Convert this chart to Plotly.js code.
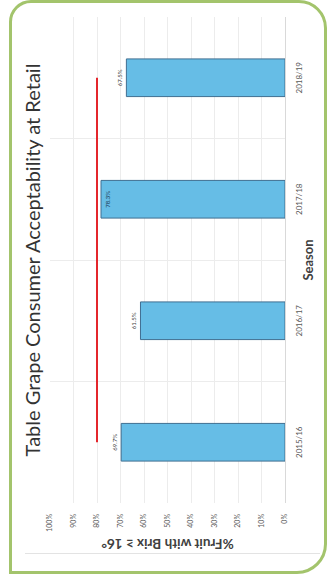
<!DOCTYPE html>
<html>
<head>
<meta charset="utf-8">
<script src="https://cdn.plot.ly/plotly-3.0.1.min.js"></script>
<style>
  html, body { margin: 0; padding: 0; background: #ffffff; width: 328px; height: 578px; overflow: hidden; }
  #frame { position: absolute; left: 9px; top: 0px; width: 312px; height: 568px;
           border: 3px solid #a3c46c; border-radius: 22px 28px 30px 0; background: #ffffff; }
  #rule { position: absolute; left: 25px; top: 553px; width: 295px; height: 1px; background: #e3e3e3; }
  #chart { position: absolute; left: 0; top: 0; width: 578px; height: 328px;
           transform-origin: 0 0; transform: translateY(578px) rotate(-90deg); }
</style>
</head>
<body>
<div id="frame"></div>
<div id="rule"></div>
<div id="chart"></div>
<script>
// Data
const seasons = ['2015/16', '2016/17', '2017/18', '2018/19'];
const pctBrix16 = [69.7, 61.5, 78.3, 67.5];
const target = [80, 80, 80, 80];
const labelPositions = ['outside', 'outside', 'inside', 'outside'];

const FONT = 'Lato, "Open Sans", sans-serif';

const bars = {
  type: 'bar',
  x: seasons,
  y: pctBrix16,
  text: pctBrix16.map(v => v.toFixed(1) + '%'),
  textposition: labelPositions,
  insidetextanchor: 'end',
  textangle: 0,
  textfont: { size: 6, color: '#404040', family: FONT },
  insidetextfont: { size: 6, color: '#1f3b55', family: FONT },
  outsidetextfont: { size: 6, color: '#404040', family: FONT },
  cliponaxis: false,
  marker: { color: '#66bde6', line: { color: '#3f6f92', width: 1 } },
  hoverinfo: 'skip',
  showlegend: false
};

const targetLine = {
  type: 'scatter',
  mode: 'lines',
  x: seasons,
  y: target,
  line: { color: '#e4262c', width: 2 },
  hoverinfo: 'skip',
  showlegend: false
};

const layout = {
  width: 578,
  height: 328,
  margin: { l: 75, r: 17, t: 50, b: 43 },
  paper_bgcolor: 'rgba(0,0,0,0)',
  plot_bgcolor: 'rgba(0,0,0,0)',
  bargap: 0.69,
  font: { family: FONT, color: '#595959' },
  title: {
    text: 'Table Grape Consumer Acceptability at Retail',
    font: { size: 20, color: '#333333', family: FONT },
    xref: 'paper', x: 0.5, xanchor: 'center',
    yref: 'container', y: 1 - 33 / 328, yanchor: 'middle'
  },
  xaxis: {
    type: 'category',
    categoryorder: 'array',
    categoryarray: seasons,
    tickson: 'boundaries',
    showgrid: true,
    gridcolor: '#ececec',
    gridwidth: 1,
    showline: true,
    linecolor: '#d9d9d9',
    linewidth: 1,
    ticks: '',
    ticklabelstandoff: 6,
    tickfont: { size: 8, color: '#595959', family: FONT },
    title: { text: 'Season', font: { size: 13, color: '#404040', family: FONT, weight: 700 }, standoff: 1 },
    zeroline: false,
    fixedrange: true
  },
  yaxis: {
    range: [0, 100],
    dtick: 10,
    ticksuffix: '%',
    showgrid: true,
    gridcolor: '#ececec',
    gridwidth: 1,
    zeroline: false,
    showline: false,
    ticks: '',
    ticklabelstandoff: 10,
    tickfont: { size: 7, color: '#595959', family: FONT },
    title: { text: '%Fruit with Brix ≥ 16°', font: { size: 13.5, color: '#404040', family: FONT, weight: 700 }, standoff: 3 },
    fixedrange: true
  }
};

Plotly.newPlot('chart', [bars, targetLine], layout, { displayModeBar: false, staticPlot: true });
</script>
</body>
</html>
